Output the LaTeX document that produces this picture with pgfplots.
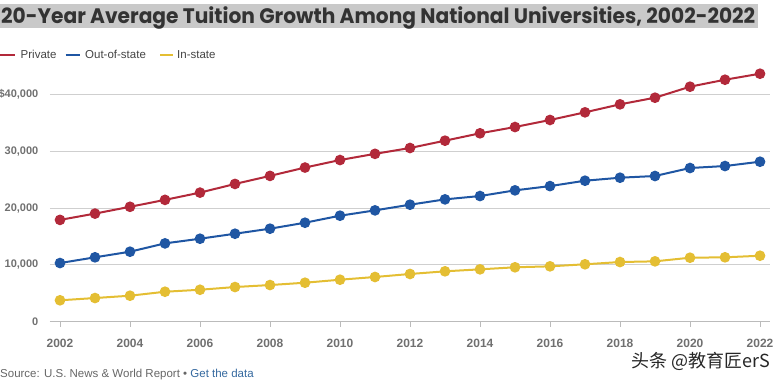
\documentclass[border=0pt]{standalone}
\usepackage{pgfplots}
\pgfplotsset{compat=1.18}
\usepackage{pgfplotstable}
\usepackage{fontspec}
\setmainfont{Liberation Sans}
\newfontfamily\titlefont{Poppins}
\newfontfamily\cjk{Noto Sans CJK SC}
\definecolor{cred}{HTML}{B2293A}
\definecolor{cblue}{HTML}{1F56A3}
\definecolor{cyellow}{HTML}{E4BE33}
\definecolor{titlebg}{HTML}{C9C9C9}
\definecolor{titletext}{HTML}{333333}
\definecolor{ticktext}{HTML}{707070}
\definecolor{legtext}{HTML}{444444}
\definecolor{srcgray}{HTML}{666666}
\definecolor{linkblue}{HTML}{35699F}
\definecolor{gridc}{HTML}{CFCFCF}
\definecolor{axisc}{HTML}{BBBBBB}

\pgfplotstableread{
year private outstate instate
2002 17920 10310 3740
2003 19030 11320 4140
2004 20230 12310 4550
2005 21450 13780 5250
2006 22730 14600 5600
2007 24260 15480 6080
2008 25680 16370 6430
2009 27150 17420 6840
2010 28480 18660 7370
2011 29570 19600 7850
2012 30600 20600 8380
2013 31890 21540 8850
2014 33190 22130 9200
2015 34300 23130 9560
2016 35540 23880 9730
2017 36890 24830 10090
2018 38300 25360 10490
2019 39470 25660 10610
2020 41410 27070 11250
2021 42640 27420 11320
2022 43700 28180 11600
}\tuition

\begin{document}
\begin{tikzpicture}
\begin{scope}[x=1pt,y=1pt]
% title
\fill[titlebg] (0,-3.5) rectangle (758,-27.5);
\node[anchor=base west, inner sep=0, text=titletext] at (1,-23.5)
  {\resizebox{754pt}{\height}{\titlefont\bfseries\fontsize{21}{21}\selectfont 20-Year Average Tuition Growth Among National Universities, 2002-2022}};
% legend
\draw[cred, line width=2pt] (0,-54.5) -- (15,-54.5);
\node[anchor=base west, inner sep=0, text=legtext] at (20.5,-58.3) {\fontsize{11.5}{12}\selectfont Private};
\draw[cblue, line width=2pt] (65.5,-54.5) -- (80,-54.5);
\node[anchor=base west, inner sep=0, text=legtext] at (85,-58.3) {\fontsize{11.5}{12}\selectfont Out-of-state};
\draw[cyellow, line width=2pt] (160,-54.5) -- (173,-54.5);
\node[anchor=base west, inner sep=0, text=legtext] at (177,-58.3) {\fontsize{11.5}{12}\selectfont In-state};
% source
\node[anchor=base west, inner sep=0, text=srcgray] at (0,-377.3)
  {\fontsize{11.5}{12}\selectfont Source: U.S. News \& World Report \textbullet{} \textcolor{linkblue}{Get the data}};
% watermark
\node[anchor=east, inner sep=0, text=black!85] at (770,-361)
  {\cjk\fontsize{18}{18}\selectfont 头条 @教育匠erS};
\end{scope}

\begin{axis}[
  at={(50pt,-321.5pt)}, anchor=south west,
  scale only axis, width=720pt, height=261.5pt,
  xmin=2001.7143, xmax=2022.2857, ymin=0, ymax=46119,
  clip=false, scaled y ticks=false, scaled x ticks=false,
  axis x line*=bottom, axis y line*=left,
  x axis line style={axisc, line width=0.9pt},
  y axis line style={draw=none},
  ymajorgrids, grid style={gridc, line width=0.9pt},
  xtick={2002,2004,2006,2008,2010,2012,2014,2016,2018,2020,2022},
  xticklabels={2002,2004,2006,2008,2010,2012,2014,2016,2018,2020,2022},
  ytick={0,10000,20000,30000,40000},
  yticklabels={0,{10,000},{20,000},{30,000},{\$40,000}},
  tick align=outside, major tick length=5pt,
  xtick style={axisc, line width=0.9pt},
  ytick style={draw=none},
  xticklabel style={inner sep=0pt, anchor=north, yshift=-12.5pt, text=ticktext, font=\bfseries\fontsize{12}{13}\selectfont},
  yticklabel style={inner sep=0pt, anchor=east, xshift=-6.5pt, text=ticktext, font=\bfseries\fontsize{11}{12}\selectfont},
]
\addplot[cred, line width=2pt, mark=*, mark size=4.3pt, mark options={fill=cred, draw=none}] table[x=year, y=private] {\tuition};
\addplot[cblue, line width=2pt, mark=*, mark size=4.3pt, mark options={fill=cblue, draw=none}] table[x=year, y=outstate] {\tuition};
\addplot[cyellow, line width=2pt, mark=*, mark size=4.3pt, mark options={fill=cyellow, draw=none}] table[x=year, y=instate] {\tuition};
\end{axis}
\pgfresetboundingbox
\path[use as bounding box] (0pt,0pt) rectangle (782pt,-383pt);
\end{tikzpicture}
\end{document}
